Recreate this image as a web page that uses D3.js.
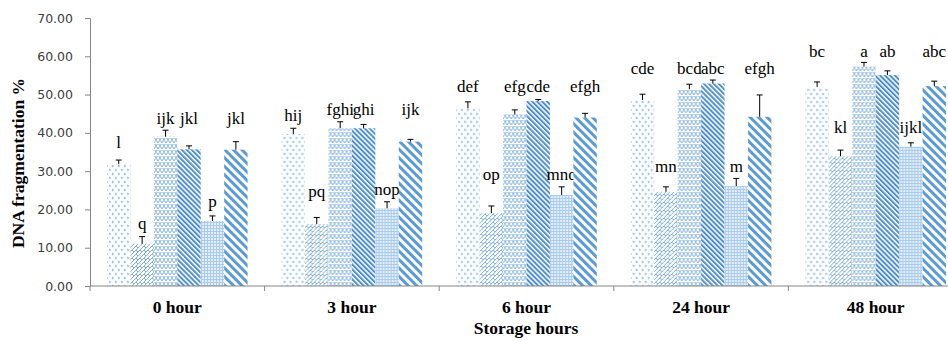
<!DOCTYPE html>
<html>
<head>
<meta charset="utf-8">
<script src="https://cdn.jsdelivr.net/npm/d3@7"></script>
<style>
  body { margin: 0; background: #fff; }
</style>
</head>
<body>
<div id="chart"></div>
<script>
const width = 948;
const height = 341;
const serif = "'Liberation Serif', 'Times New Roman', serif";

// data
const hours = ["0 hour", "3 hour", "6 hour", "24 hour", "48 hour"];
const series = ["s1", "s2", "s3", "s4", "s5", "s6"];
const means = [
  [31.8, 11.0, 39.0, 35.7, 17.0, 35.6],
  [39.7, 16.2, 41.2, 41.2, 20.3, 37.7],
  [46.4, 19.0, 44.8, 48.3, 23.8, 44.0],
  [48.6, 24.6, 51.4, 52.9, 26.1, 44.2],
  [52.0, 33.9, 57.3, 55.1, 36.4, 52.2]
];
const errors = [
  [1.1, 1.9, 1.7, 0.9, 1.3, 2.1],
  [1.5, 1.7, 1.7, 1.0, 1.7, 0.6],
  [1.7, 1.9, 1.2, 0.4, 2.1, 1.1],
  [1.5, 1.3, 1.3, 0.9, 2.0, 5.7],
  [1.3, 1.6, 1.1, 1.1, 1.0, 1.3]
];
const letters = [
  ["l", "q", "ijk", "jkl", "p", "jkl"],
  ["hij", "pq", "fghi", "ghi", "nop", "ijk"],
  ["def", "op", "efg", "cde", "mno", "efgh"],
  ["cde", "mn", "bcd", "abc", "m", "efgh"],
  ["bc", "kl", "a", "ab", "ijkl", "abc"]
];
// height (in % units) where each letter group sits
const letterAt = [
  [36.0, 14.9, 42.3, 42.3, 20.6, 42.3],
  [43.1, 23.3, 44.6, 44.6, 23.8, 44.6],
  [50.7, 27.7, 50.7, 50.7, 27.7, 50.7],
  [55.5, 29.8, 55.5, 55.5, 29.8, 55.5],
  [59.9, 39.9, 59.9, 59.9, 39.9, 59.9]
];
const yTicks = [0, 10, 20, 30, 40, 50, 60, 70];

const svg = d3.select("#chart").append("svg")
  .attr("width", width)
  .attr("height", height);

// fill patterns
const defs = svg.append("defs");
const blue = "#5b9bd5";

let p = defs.append("pattern").attr("id", "pat0")
  .attr("patternUnits", "userSpaceOnUse").attr("width", 6).attr("height", 8);
p.append("rect").attr("width", 6).attr("height", 8).attr("fill", "#fff");
p.append("path").attr("d", "M1,1 l1.5,1 l-1.5,1 M4,5 l1.5,1 l-1.5,1")
  .attr("stroke", "#92bde8").attr("stroke-width", 1.1).attr("fill", "none");

p = defs.append("pattern").attr("id", "pat1")
  .attr("patternUnits", "userSpaceOnUse").attr("width", 8).attr("height", 8);
p.append("rect").attr("width", 8).attr("height", 8).attr("fill", "#fff");
p.append("path").attr("d", "M0,8 L8,0 M0,4 L4,0 M4,8 L8,4 M2,2 L4,4 M6,6 L8,8 M6,2 L8,4")
  .attr("stroke", "#7fb1e2").attr("stroke-width", 1).attr("fill", "none");

p = defs.append("pattern").attr("id", "pat2")
  .attr("patternUnits", "userSpaceOnUse").attr("width", 8).attr("height", 6);
p.append("rect").attr("width", 8).attr("height", 6).attr("fill", "#fff");
p.append("path").attr("d", "M0,5 Q2,0 4,5 M4,5 Q6,0 8,5 M-2,2 Q0,-3 2,2 M6,2 Q8,-3 10,2 M2,2 Q4,-3 6,2")
  .attr("stroke", "#7fb1e2").attr("stroke-width", 1).attr("fill", "none");

p = defs.append("pattern").attr("id", "pat3")
  .attr("patternUnits", "userSpaceOnUse").attr("width", 3.5).attr("height", 10)
  .attr("patternTransform", "rotate(-45)");
p.append("rect").attr("width", 3.5).attr("height", 10).attr("fill", "#fff");
p.append("rect").attr("width", 2).attr("height", 10).attr("fill", "#4f8fd0");

p = defs.append("pattern").attr("id", "pat4")
  .attr("patternUnits", "userSpaceOnUse").attr("width", 3).attr("height", 3);
p.append("rect").attr("width", 3).attr("height", 3).attr("fill", "#e3eefa");
p.append("rect").attr("width", 1).attr("height", 3).attr("fill", "#a9cbec");
p.append("rect").attr("width", 3).attr("height", 1).attr("fill", "#a9cbec");

p = defs.append("pattern").attr("id", "pat5")
  .attr("patternUnits", "userSpaceOnUse").attr("width", 6).attr("height", 10)
  .attr("patternTransform", "rotate(-45)");
p.append("rect").attr("width", 6).attr("height", 10).attr("fill", "#fff");
p.append("rect").attr("width", 3).attr("height", 10).attr("fill", blue);

// scales
const x = d3.scaleBand().domain(hours).range([90, 963]).padding(0);
const xs = d3.scaleBand().domain(series)
  .range([17, x.bandwidth() - 17]).padding(0);
const y = d3.scaleLinear().domain([0, 70]).range([286, 18]);

// y axis
const yAxis = svg.append("g")
  .attr("transform", "translate(90,0)")
  .call(d3.axisLeft(y).tickValues(yTicks).tickFormat(d3.format(".2f"))
    .tickSize(5).tickPadding(12));
yAxis.selectAll("path, line").attr("stroke", "#868686");
yAxis.selectAll("text")
  .attr("font-family", "'DejaVu Sans', sans-serif")
  .attr("font-size", 12.5)
  .attr("fill", "#404040");

// bars
const groups = svg.selectAll(".grp")
  .data(hours)
  .enter()
  .append("g")
  .attr("class", "grp")
  .attr("transform", d => `translate(${x(d)},0)`);

groups.each(function(h, gi) {
  const g = d3.select(this);
  series.forEach((s, si) => {
    const v = means[gi][si];
    const e = errors[gi][si];
    const cx = xs(s) + xs.bandwidth() / 2;
    g.append("rect")
      .attr("x", xs(s))
      .attr("y", y(v))
      .attr("width", xs.bandwidth())
      .attr("height", y(0) - y(v))
      .attr("fill", `url(#pat${si})`);
    g.append("line")
      .attr("x1", cx).attr("x2", cx)
      .attr("y1", y(v)).attr("y2", y(v + e))
      .attr("stroke", "#000").attr("stroke-width", 1);
    g.append("line")
      .attr("x1", cx - 3).attr("x2", cx + 3)
      .attr("y1", y(v + e)).attr("y2", y(v + e))
      .attr("stroke", "#000").attr("stroke-width", 1);
    g.append("text")
      .attr("x", cx)
      .attr("y", y(letterAt[gi][si]))
      .attr("text-anchor", "middle")
      .attr("font-family", serif)
      .attr("font-size", 17)
      .text(letters[gi][si]);
  });
});

// x axis
const xAxis = svg.append("g");
xAxis.append("line")
  .attr("x1", 90).attr("x2", 963)
  .attr("y1", y(0)).attr("y2", y(0))
  .attr("stroke", "#868686");
xAxis.selectAll(".sep")
  .data(hours.concat(["end"]))
  .enter()
  .append("line")
  .attr("x1", (d, i) => 90 + i * x.bandwidth())
  .attr("x2", (d, i) => 90 + i * x.bandwidth())
  .attr("y1", y(0)).attr("y2", y(0) + 5)
  .attr("stroke", "#868686");
xAxis.selectAll(".cat")
  .data(hours)
  .enter()
  .append("text")
  .attr("x", d => x(d) + x.bandwidth() / 2)
  .attr("y", 313)
  .attr("text-anchor", "middle")
  .attr("font-family", serif)
  .attr("font-size", 17.5)
  .attr("font-weight", "bold")
  .text(d => d);

svg.append("text")
  .attr("x", 526)
  .attr("y", 334)
  .attr("text-anchor", "middle")
  .attr("font-family", serif)
  .attr("font-size", 17.5)
  .attr("font-weight", "bold")
  .text("Storage hours");

svg.append("text")
  .attr("transform", "rotate(-90)")
  .attr("x", -163)
  .attr("y", 24)
  .attr("text-anchor", "middle")
  .attr("font-family", serif)
  .attr("font-size", 17.5)
  .attr("font-weight", "bold")
  .text("DNA fragmentation %");
</script>
</body>
</html>
